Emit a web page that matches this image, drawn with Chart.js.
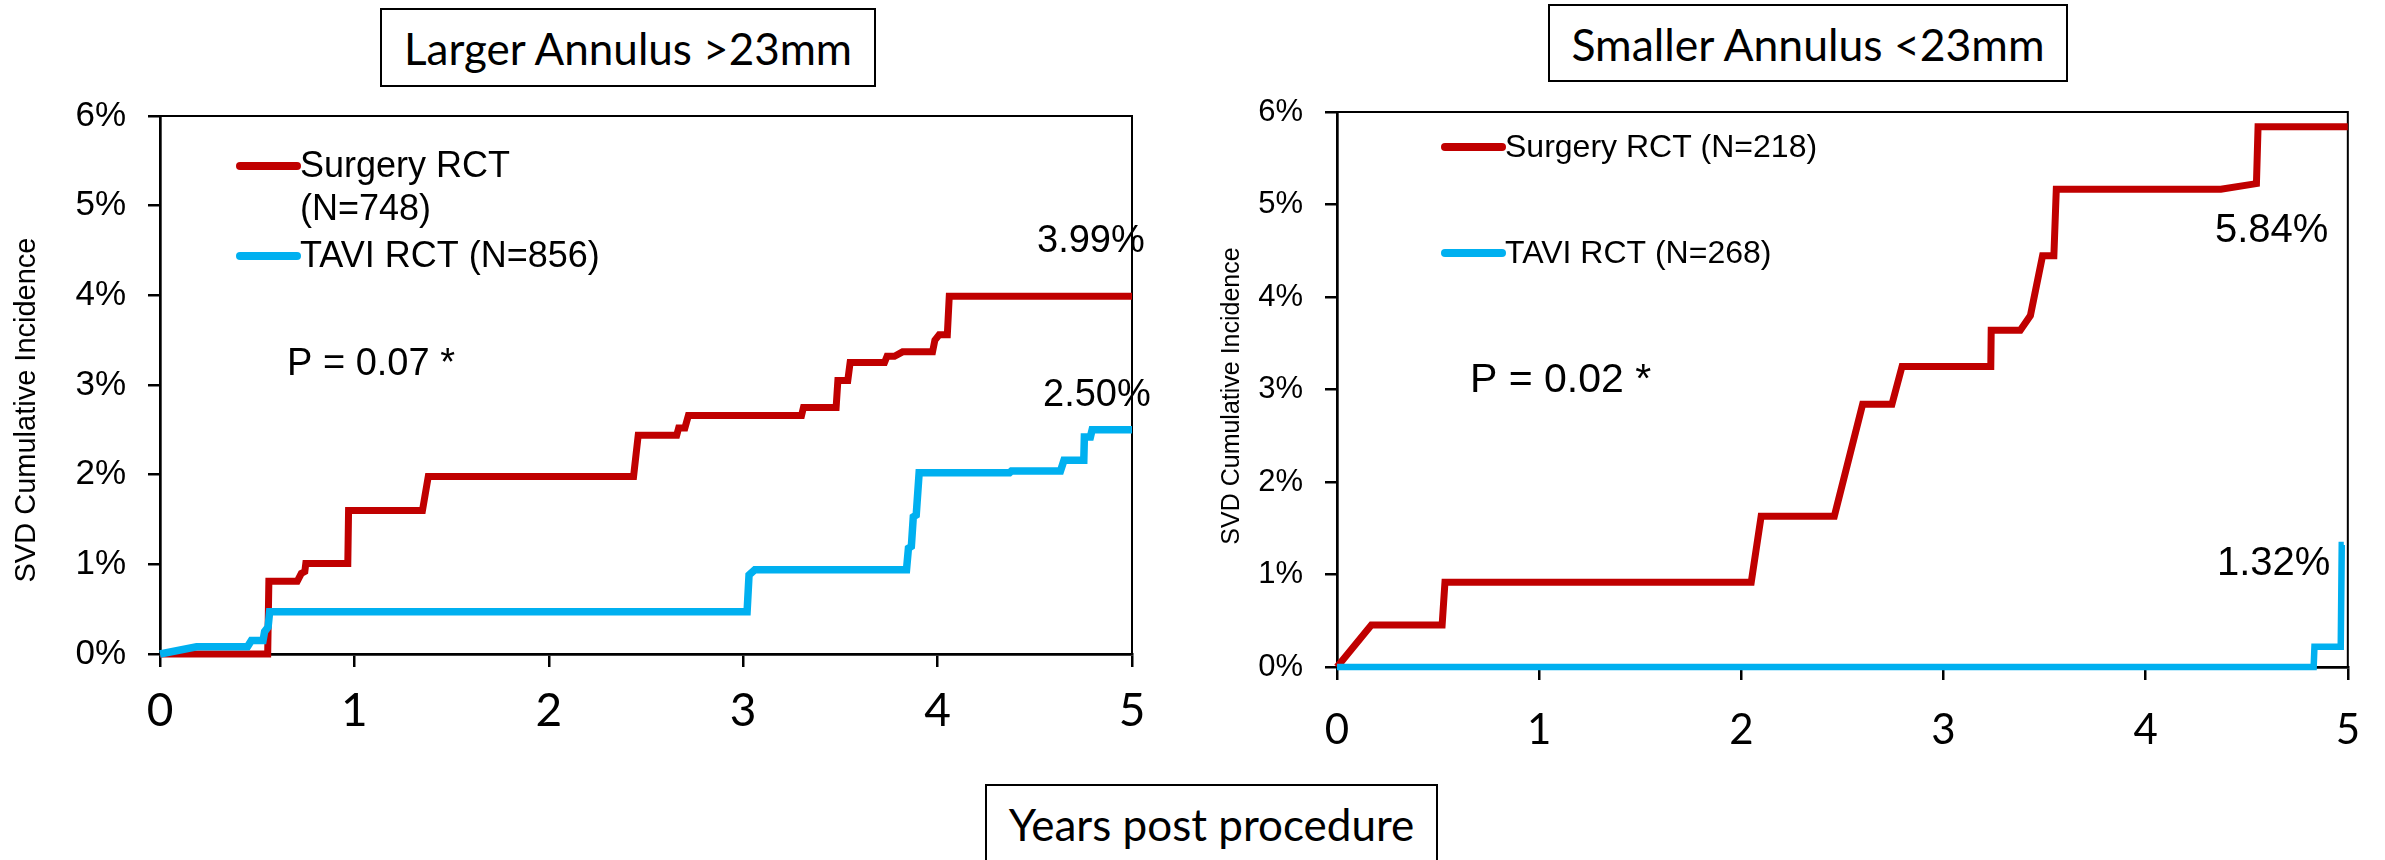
<!DOCTYPE html>
<html>
<head>
<meta charset="utf-8">
<script src="https://cdn.jsdelivr.net/npm/chart.js@4.4.1/dist/chart.umd.min.js"></script>
<style>
  html, body { margin: 0; padding: 0; background: #fff; }
  body { width: 2385px; height: 860px; position: relative; overflow: hidden; }
  canvas { position: absolute; }
  .box {
    position: absolute; box-sizing: border-box; border: 2px solid #000;
    display: flex; align-items: center; justify-content: center;
    font-family: Lato, "Open Sans", sans-serif; color: #000; background: #fff;
    white-space: nowrap;
  }
</style>
</head>
<body>
<canvas id="chartLarge" width="1190" height="790" style="left:0;top:0"></canvas>
<canvas id="chartSmall" width="1195" height="790" style="left:1190px;top:0"></canvas>
<div class="box" style="left:380px;top:8px;width:496px;height:79px;font-size:44px;">Larger Annulus &gt;23mm</div>
<div class="box" style="left:1548px;top:4px;width:520px;height:78px;font-size:44.5px;">Smaller Annulus &lt;23mm</div>
<div class="box" style="left:985px;top:784px;width:453px;height:80px;font-size:44px;">Years post procedure</div>

<script>
// ---- data -------------------------------------------------------------
const yearTicks = [0, 1, 2, 3, 4, 5];
const pctTicks = [0, 1, 2, 3, 4, 5, 6];

// Larger annulus (>23mm): cumulative SVD incidence (%) vs years
const largeSurgeryYears = [0, 0.554, 0.56, 0.706, 0.727, 0.745, 0.75, 0.966, 0.97, 1.35, 1.38, 2.436, 2.46, 2.658, 2.668, 2.70, 2.718, 3.30, 3.31, 3.478, 3.487, 3.538, 3.55, 3.727, 3.74, 3.778, 3.82, 3.974, 3.986, 4.008, 4.05, 4.06, 5];
const largeSurgeryPct   = [0, 0,     0.81, 0.81,  0.90,  0.92,  1.01, 1.01,  1.60, 1.60, 1.98, 1.98,  2.44, 2.44,  2.52,  2.52, 2.66,  2.66, 2.75, 2.75,  3.05,  3.05,  3.25, 3.25,  3.32, 3.32,  3.37, 3.37,  3.50,  3.56,  3.56, 3.99, 3.99];
const largeTaviYears = [0, 0.188, 0.45, 0.47, 0.53, 0.538, 0.556, 0.564, 3.02, 3.03, 3.06, 3.84, 3.85, 3.865, 3.875, 3.89, 3.905, 4.37, 4.38, 4.632, 4.65, 4.752, 4.755, 4.786, 4.795, 5];
const largeTaviPct   = [0, 0.08,  0.08, 0.15, 0.15, 0.25,  0.30,  0.47,  0.47, 0.88, 0.94, 0.94, 1.18, 1.20,  1.53,  1.55, 2.02,  2.02, 2.04, 2.04,  2.16, 2.16,  2.42,  2.42,  2.50,  2.50];

// Smaller annulus (<23mm)
const smallSurgeryYears = [0, 0.17, 0.52, 0.534, 2.049, 2.098, 2.46, 2.60, 2.745, 2.795, 3.234, 3.236, 3.38, 3.43, 3.49, 3.546, 3.558, 4.372, 4.548, 4.556, 5];
const smallSurgeryPct   = [0, 0.455, 0.455, 0.917, 0.917, 1.63, 1.63, 2.84, 2.84, 3.25, 3.25, 3.64, 3.64, 3.80, 4.445, 4.445, 5.166, 5.166, 5.226, 5.84, 5.84];
const smallTaviYears = [0, 4.831, 4.835, 4.965, 4.97, 4.98];
const smallTaviPct   = [0, 0,     0.22,  0.22,  1.32, 1.32];

const largeLegend = [['Surgery RCT', '(N=748)'], ['TAVI RCT (N=856)']];
const smallLegend = [['Surgery RCT (N=218)'], ['TAVI RCT (N=268)']];
const largePValue = 'P = 0.07 *';
const smallPValue = 'P = 0.02 *';
const yAxisTitle = 'SVD Cumulative Incidence';

// ---- helpers -----------------------------------------------------------
const RED = '#C00000';
const BLUE = '#00B0F0';
const ARIAL = '"Liberation Sans", Arial, sans-serif';
const CALIBRI = 'Lato, "Open Sans", sans-serif';

function toPoints(xs, ys) { return xs.map((x, i) => ({ x, y: ys[i] })); }

// plot frame (top/right), legend, p-value, end values and y title
const overlay = {
  id: 'overlay',
  beforeDatasetsDraw(chart, args, o) {
    const { ctx, chartArea: a } = chart;
    ctx.save();
    ctx.strokeStyle = '#000';
    ctx.lineWidth = o.frameWidth;
    ctx.beginPath();
    ctx.moveTo(a.left, a.top);
    ctx.lineTo(a.right, a.top);
    ctx.lineTo(a.right, a.bottom);
    ctx.stroke();
    ctx.restore();
  },
  afterDraw(chart, args, o) {
    const { ctx } = chart;
    const ds = chart.data.datasets;
    ctx.save();
    ctx.fillStyle = '#000';
    ctx.textAlign = 'left';
    ctx.textBaseline = 'alphabetic';

    // legend
    ctx.font = o.legendFont + 'px ' + ARIAL;
    o.legend.forEach(item => {
      const d = ds[item.dataset];
      ctx.strokeStyle = d.borderColor;
      ctx.lineWidth = 8;
      ctx.lineCap = 'round';
      ctx.beginPath();
      ctx.moveTo(item.x0, item.lineY);
      ctx.lineTo(item.x1, item.lineY);
      ctx.stroke();
      item.lines.forEach((t, k) => ctx.fillText(t, item.textX, item.baselines[k]));
    });

    // p-value
    ctx.font = o.pFont + 'px ' + ARIAL;
    ctx.fillText(o.pText, o.pX, o.pY);

    // final cumulative incidence of each series
    ctx.font = o.endFont + 'px ' + ARIAL;
    o.ends.forEach(e => {
      const data = ds[e.dataset].data;
      const v = data[data.length - 1].y;
      ctx.fillText(v.toFixed(2) + '%', e.x, e.y);
    });

    // y axis title
    ctx.translate(o.yTitle.x, o.yTitle.y);
    ctx.rotate(-Math.PI / 2);
    ctx.textAlign = 'center';
    ctx.textBaseline = 'middle';
    ctx.font = o.yTitle.size + 'px ' + ARIAL;
    ctx.fillText(yAxisTitle, 0, 0);
    ctx.restore();
  }
};

function makeChart(id, cfg) {
  const datasets = [
    { label: 'TAVI RCT', data: toPoints(cfg.taviX, cfg.taviY), borderColor: BLUE, borderWidth: cfg.taviWidth, order: 0 },
    { label: 'Surgery RCT', data: toPoints(cfg.surgX, cfg.surgY), borderColor: RED, borderWidth: cfg.surgWidth, order: 1 }
  ].map(d => Object.assign(d, { pointRadius: 0, tension: 0, fill: false, clip: false, borderJoinStyle: 'miter' }));

  return new Chart(document.getElementById(id), {
    type: 'line',
    data: { datasets },
    plugins: [overlay],
    options: {
      responsive: false,
      animation: false,
      devicePixelRatio: 1,
      events: [],
      layout: { padding: { top: cfg.padTop, right: cfg.padRight, left: 0, bottom: 0 } },
      plugins: {
        legend: { display: false },
        tooltip: { enabled: false },
        overlay: cfg.overlay
      },
      scales: {
        x: {
          type: 'linear', min: yearTicks[0], max: yearTicks[yearTicks.length - 1],
          afterBuildTicks: s => { s.ticks = yearTicks.map(v => ({ value: v })); },
          afterFit: s => { s.height = cfg.xHeight; },
          ticks: { color: '#000', font: { family: CALIBRI, size: cfg.xFont }, padding: cfg.xPad, maxRotation: 0, callback: v => String(v) },
          grid: { drawOnChartArea: false, drawTicks: true, tickLength: 13, color: '#000', lineWidth: 2.5 },
          border: { display: true, color: '#000', width: 2.7 }
        },
        y: {
          type: 'linear', min: pctTicks[0], max: pctTicks[pctTicks.length - 1],
          afterBuildTicks: s => { s.ticks = pctTicks.map(v => ({ value: v })); },
          afterFit: s => { s.width = cfg.yWidth; },
          ticks: { color: '#000', font: { family: ARIAL, size: cfg.yFont }, padding: cfg.yPad, callback: v => v + '%' },
          grid: { drawOnChartArea: false, drawTicks: true, tickLength: 12, color: '#000', lineWidth: 2.5 },
          border: { display: true, color: '#000', width: 2.7 }
        }
      }
    }
  });
}

// Larger annulus chart (datasets: 0 = TAVI, 1 = Surgery)
makeChart('chartLarge', {
  surgX: largeSurgeryYears, surgY: largeSurgeryPct, taviX: largeTaviYears, taviY: largeTaviPct,
  surgWidth: 7, taviWidth: 7.5,
  padTop: 116, padRight: 58, xHeight: 136, yWidth: 160,
  xFont: 46, xPad: 17, yFont: 35, yPad: 22,
  overlay: {
    frameWidth: 2,
    legendFont: 36,
    legend: [
      { dataset: 1, x0: 240, x1: 297, lineY: 166, textX: 300, lines: largeLegend[0], baselines: [177, 220] },
      { dataset: 0, x0: 240, x1: 297, lineY: 256, textX: 300, lines: largeLegend[1], baselines: [267] }
    ],
    pFont: 38, pText: largePValue, pX: 287, pY: 375,
    endFont: 38,
    ends: [ { dataset: 1, x: 1037, y: 252 }, { dataset: 0, x: 1043, y: 406 } ],
    yTitle: { x: 27, y: 410, size: 29 }
  }
});

// Smaller annulus chart
makeChart('chartSmall', {
  surgX: smallSurgeryYears, surgY: smallSurgeryPct, taviX: smallTaviYears, taviY: smallTaviPct,
  surgWidth: 7, taviWidth: 6.5,
  padTop: 112, padRight: 36, xHeight: 123, yWidth: 147,
  xFont: 42, xPad: 25, yFont: 31, yPad: 22,
  overlay: {
    frameWidth: 2,
    legendFont: 32,
    legend: [
      { dataset: 1, x0: 255, x1: 312, lineY: 147, textX: 315, lines: smallLegend[0], baselines: [157] },
      { dataset: 0, x0: 255, x1: 312, lineY: 253, textX: 315, lines: smallLegend[1], baselines: [263] }
    ],
    pFont: 41, pText: smallPValue, pX: 280, pY: 392,
    endFont: 40,
    ends: [ { dataset: 1, x: 1025, y: 242 }, { dataset: 0, x: 1027, y: 575 } ],
    yTitle: { x: 42, y: 396, size: 25 }
  }
});
</script>
</body>
</html>
